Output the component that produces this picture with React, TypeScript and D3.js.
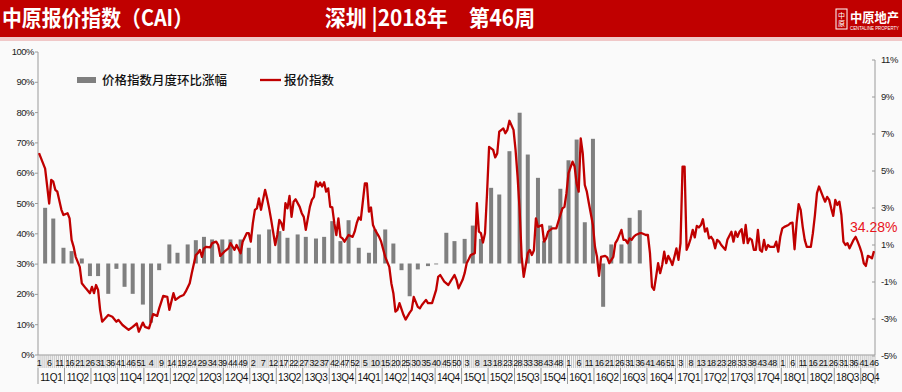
import React from "react";
import * as d3 from "d3";

// ---------- data ----------
const years = [2011, 2012, 2013, 2014, 2015, 2016, 2017, 2018];
const weeksPerYear = [52, 52, 52, 52, 52, 53, 52, 46];

// weekly 报价指数 (week index from 2011 W1, value %)
const lineWeek = [
  0, 3, 5, 6, 7, 8, 9, 11, 12, 14, 15, 16, 17, 18, 20, 21, 23, 25, 26, 27, 28, 29, 30, 31, 34, 36, 38, 39, 41, 44,
  46, 48, 49, 51, 52, 54, 55, 56, 58, 59, 61, 63, 64, 66, 67, 69, 71, 72, 74, 75, 77, 78, 79, 80, 81, 82, 84, 85, 87, 88,
  89, 91, 93, 94, 96, 97, 99, 100, 102, 103, 104, 105, 106, 107, 108, 109, 110, 111, 112, 113, 114, 116, 117, 118, 119, 120, 121, 122, 123, 124,
  125, 126, 128, 129, 130, 131, 133, 134, 135, 136, 137, 138, 139, 140, 141, 142, 143, 144, 145, 146, 147, 148, 149, 150, 151, 152, 154, 155, 156, 157,
  158, 160, 161, 162, 163, 164, 165, 167, 168, 170, 172, 173, 174, 175, 176, 177, 179, 180, 182, 183, 184, 186, 187, 188, 190, 191, 193, 195, 196, 197,
  199, 201, 202, 204, 205, 206, 208, 209, 210, 211, 212, 213, 214, 215, 216, 217, 218, 219, 220, 221, 223, 224, 225, 226, 228, 229, 230, 231, 233, 234,
  235, 236, 237, 238, 240, 241, 242, 243, 244, 245, 247, 248, 249, 250, 252, 254, 255, 257, 258, 259, 260, 262, 263, 264, 265, 266, 267, 268, 269, 270,
  272, 273, 274, 275, 276, 278, 279, 280, 282, 283, 284, 286, 287, 288, 289, 290, 291, 292, 293, 295, 296, 298, 299, 300, 301, 302, 303, 304, 305, 306,
  307, 308, 309, 310, 311, 312, 313, 314, 315, 316, 317, 318, 319, 320, 321, 322, 323, 324, 325, 326, 327, 328, 329, 330, 331, 332, 333, 334, 335, 337,
  338, 340, 341, 342, 343, 344, 345, 346, 347, 348, 349, 350, 351, 352, 353, 354, 355, 356, 357, 358, 359, 361, 362, 363, 364, 365, 366, 368, 369, 370,
  371, 372, 373, 374, 375, 376, 377, 379, 380, 381, 382, 383, 384, 385, 386, 387, 388, 389, 390, 391, 392, 393, 394, 395, 396, 397, 398, 400, 401, 402,
  403, 404, 405, 406, 407, 408, 409, 410,
];
const lineValue = [
  66.6, 61.5, 50.0, 57.8, 57.2, 54.5, 53.9, 47.9, 46.2, 46.8, 45.1, 38.0, 35.7, 32.4, 29.1, 23.7, 22.0, 20.4, 22.5, 20.4, 23.1, 21.5, 14.9, 11.0, 13.2, 12.6, 11.0, 11.6, 9.9, 8.3,
  9.3, 10.4, 7.7, 10.7, 9.3, 8.8, 11.0, 13.5, 12.9, 15.4, 19.5, 19.2, 14.9, 20.4, 18.2, 19.2, 19.8, 20.9, 23.7, 27.0, 33.0, 33.6, 34.7, 32.4, 35.2, 35.7, 35.5, 36.9, 37.4, 36.3,
  32.7, 34.1, 35.2, 36.9, 34.7, 36.3, 33.6, 37.4, 40.2, 40.2, 37.4, 43.5, 47.9, 48.4, 51.7, 47.9, 51.2, 54.5, 51.7, 48.4, 44.6, 36.3, 39.6, 44.6, 43.5, 41.3, 50.1, 48.4, 52.5, 45.6,
  50.6, 51.4, 48.9, 46.8, 45.6, 41.3, 48.9, 51.2, 52.2, 57.2, 55.6, 56.9, 55.6, 57.0, 53.9, 55.0, 48.9, 48.7, 43.5, 39.6, 45.1, 39.0, 38.5, 37.4, 38.5, 39.6, 39.0, 40.7, 43.5, 45.4,
  44.6, 56.6, 56.6, 47.3, 48.7, 42.9, 41.3, 39.0, 37.4, 32.4, 29.1, 23.7, 20.4, 14.3, 14.9, 17.1, 13.2, 11.7, 14.0, 14.9, 19.2, 15.9, 15.4, 16.5, 18.2, 17.1, 17.1, 21.5, 25.8, 26.4,
  24.2, 23.1, 24.2, 26.4, 24.8, 22.0, 24.8, 27.0, 30.3, 31.6, 33.0, 33.3, 33.6, 50.1, 40.7, 40.2, 37.1, 40.2, 53.4, 68.7, 67.7, 65.2, 66.5, 73.7, 74.8, 73.2, 74.3, 77.3, 74.3, 67.7,
  58.8, 47.9, 32.4, 25.8, 33.6, 34.7, 33.0, 34.5, 45.1, 42.3, 42.9, 37.4, 38.5, 40.7, 41.8, 41.8, 44.0, 48.4, 48.9, 53.4, 60.0, 63.8, 62.2, 56.6, 53.9, 71.5, 66.5, 56.1, 53.9, 50.1,
  42.9, 35.7, 32.4, 26.1, 32.4, 32.7, 32.2, 30.3, 32.4, 36.9, 38.0, 41.3, 38.0, 38.0, 36.9, 38.5, 38.0, 39.0, 39.6, 40.2, 40.2, 39.6, 39.6, 33.6, 22.5, 21.5, 25.8, 30.3, 27.0, 29.7,
  34.1, 30.3, 32.7, 31.4, 29.7, 32.4, 35.2, 31.4, 36.9, 62.2, 62.2, 34.7, 36.3, 38.5, 41.3, 38.8, 42.6, 42.1, 42.9, 44.8, 40.7, 41.8, 38.5, 39.0, 38.0, 35.2, 38.0, 37.4, 36.3, 34.7,
  38.0, 40.7, 37.4, 40.7, 39.0, 40.7, 41.5, 36.9, 42.9, 36.9, 38.5, 38.0, 34.7, 34.7, 41.3, 34.7, 34.1, 38.0, 34.7, 36.3, 35.7, 35.7, 37.4, 34.1, 39.0, 41.8, 42.3, 42.9, 43.5, 43.7,
  34.9, 43.5, 49.8, 47.9, 42.3, 38.0, 35.7, 35.7, 40.2, 46.2, 53.4, 55.6, 53.9, 52.2, 50.6, 52.2, 51.2, 48.4, 45.9, 51.2, 49.5, 50.6, 46.2, 37.4, 36.3, 36.9, 35.2, 38.0, 39.0, 37.4,
  35.7, 33.6, 30.3, 29.4, 32.7, 32.4, 31.9, 34.28,
];

// monthly 价格指数月度环比涨幅 (week index of bar, value %)
const barWeek = [
  3, 7, 12, 16, 21, 25, 29, 34, 38, 42, 46, 51, 55, 59, 64, 68, 73, 77, 81, 85, 90, 94, 99, 103, 108, 113, 118, 122, 127, 131,
  136, 140, 144, 148, 152, 157, 162, 165, 170, 174, 178, 182, 186, 191, 195, 200, 204, 209, 213, 217, 222, 226, 231, 236, 240, 245, 248, 251, 256, 260,
  264, 268, 272, 277, 281, 286, 290, 295,
];
const barValue = [
  3.01, 2.43, 0.85, 0.67, 0.27, -0.68, -0.68, -1.64, -0.29, -1.26, -1.64, -2.22, -3.2, -0.36, 1.03, 0.58, 1.03, 1.26, 1.44, 1.3, 1.3, 1.3, 1.3, 0.85, 1.57, 1.84, 1.75, 1.39, 1.57, 1.44,
  1.35, 1.44, 2.29, 1.21, 2.34, 0.85, 0.58, 1.84, 1.84, 1.08, -0.36, -1.77, -0.32, -0.14, -0.05, 1.66, 1.21, 1.33, 2.05, 1.33, 4.09, 3.73, 6.07, 8.15, 5.89, 4.63, 1.21, 2.05, 4.04, 5.58,
  6.7, 2.23, 6.74, -2.34, 1.03, 1.03, 2.47, 2.88,
];

const leftTicks = [0, 10, 20, 30, 40, 50, 60, 70, 80, 90, 100];
const rightTicks = [-5, -3, -1, 1, 3, 5, 7, 9, 11];
const legendBar = "价格指数月度环比涨幅";
const legendLine = "报价指数";
const title = "中原报价指数（CAI）";
const subtitle = "深圳 |2018年　第46周";
const lastLabel = "34.28%";

// ---------- layout ----------
const W = 902;
const H = 392;
const X0 = 38;
const X1 = 875;
const Y0 = 355;

type Wk = { year: number; week: number; q: number };
const weeks: Wk[] = [];
years.forEach((y, yi) => {
  for (let w = 1; w <= weeksPerYear[yi]; w++) {
    weeks.push({ year: y, week: w, q: w <= 13 ? 1 : w <= 26 ? 2 : w <= 39 ? 3 : 4 });
  }
});
const N = weeks.length;

const x = d3.scaleLinear().domain([0, N]).range([X0, X1]);
const xc = (i: number) => x(i + 0.5);
const yL = d3.scaleLinear().domain([0, 100]).range([Y0, 52]);
const yR = d3.scaleLinear().domain([-5, 11]).range([356, 60]);

// quarter groups
type QG = { label: string; start: number; end: number };
const quarters: QG[] = [];
weeks.forEach((w, i) => {
  const lab = `${String(w.year).slice(2)}Q${w.q}`;
  const last = quarters[quarters.length - 1];
  if (last && last.label === lab) last.end = i + 1;
  else quarters.push({ label: lab, start: i, end: i + 1 });
});

const axisFont = "'Liberation Sans', Arial, sans-serif";
const cjkFont = "'Noto Sans CJK SC', sans-serif";

export default function App() {
  const linePath = d3
    .line<number>()
    .x((_, k) => xc(lineWeek[k]))
    .y((v) => yL(v))(lineValue) as string;

  const lastX = xc(lineWeek[lineWeek.length - 1]);
  const lastY = yL(lineValue[lineValue.length - 1]);

  return (
    <svg
      width={W}
      height={H}
      style={{ position: "absolute", left: 0, top: 0, background: "#fafafa" }}
      fontFamily={axisFont}
    >
      <defs>
        <clipPath id="qclip">
          <rect x={x(quarters[quarters.length - 1].start)} y={360} width={40} height={30} />
        </clipPath>
      </defs>
      {/* header */}
      <rect x={0} y={0} width={W} height={37} fill="#c00000" />
      <rect x={0} y={37} width={W} height={4} fill="#f0c8c8" />
      <text
        x={2}
        y={26}
        fill="#fff"
        fontFamily={cjkFont}
        fontWeight={700}
        fontSize={22}
        textLength={191}
        lengthAdjust="spacingAndGlyphs"
      >
        {title}
      </text>
      <text
        x={325}
        y={26}
        fill="#fff"
        fontFamily={cjkFont}
        fontWeight={700}
        fontSize={22}
        textLength={210}
        lengthAdjust="spacingAndGlyphs"
      >
        {subtitle}
      </text>
      {/* logo */}
      <rect x={836} y={9} width={11} height={20} fill="none" stroke="#fff" strokeWidth={1} />
      <text x={841.5} y={18} fill="#fff" fontSize={7} fontFamily={cjkFont} textAnchor="middle">中</text>
      <text x={841.5} y={26} fill="#fff" fontSize={7} fontFamily={cjkFont} textAnchor="middle">原</text>
      <text x={850} y={22} fill="#fff" fontFamily={cjkFont} fontWeight={700} fontSize={13} textLength={49} lengthAdjust="spacingAndGlyphs">
        中原地产
      </text>
      <text x={850} y={29.5} fill="#fff" fontSize={5} textLength={49} lengthAdjust="spacingAndGlyphs">
        CENTALINE PROPERTY
      </text>

      {/* left axis */}
      <line x1={X0} x2={X0} y1={52} y2={Y0} stroke="#9a9a9a" />
      {leftTicks.map((t) => (
        <g key={"l" + t}>
          <line x1={X0 - 3} x2={X0} y1={yL(t)} y2={yL(t)} stroke="#9a9a9a" />
          <text x={X0 - 4} y={yL(t) + 3} fontSize={9.5} textAnchor="end" fill="#222" letterSpacing={-0.5}>
            {t}%
          </text>
        </g>
      ))}
      {/* right axis */}
      <line x1={X1} x2={X1} y1={60} y2={Y0} stroke="#9a9a9a" />
      {rightTicks.map((t) => (
        <g key={"r" + t}>
          <line x1={X1 - 3} x2={X1} y1={yR(t)} y2={yR(t)} stroke="#9a9a9a" />
          <text x={X1 + 6} y={yR(t) + 3} fontSize={9.5} textAnchor="start" fill="#222" letterSpacing={-0.5}>
            {t}%
          </text>
        </g>
      ))}

      {/* bars */}
      {barValue.map((v, k) => (
        <rect
          key={"b" + k}
          x={xc(barWeek[k]) - 2}
          width={4}
          y={Math.min(yR(v), yR(0))}
          height={Math.abs(yR(v) - yR(0))}
          fill="#7f7f7f"
        />
      ))}

      {/* line */}
      <path d={linePath} fill="none" stroke="#c00000" strokeWidth={2.3} strokeLinejoin="round" />
      <text x={lastX - 24} y={lastY - 19} fill="#e8141c" fontSize={14} textAnchor="start">
        {lastLabel}
      </text>

      {/* x axis */}
      <line x1={X0} x2={X1} y1={Y0} y2={Y0} stroke="#9a9a9a" />
      {weeks.map((_, i) => (
        <line key={"t" + i} x1={x(i)} x2={x(i)} y1={Y0} y2={368} stroke="#b4b4b4" strokeWidth={0.8} />
      ))}
      <line x1={X1} x2={X1} y1={Y0} y2={368} stroke="#b4b4b4" strokeWidth={0.8} />
      {weeks.map((w, i) =>
        i % 5 === 0 ? (
          <text key={"wl" + i} x={xc(i)} y={366} fontSize={9} textAnchor="middle" fill="#111" letterSpacing={-0.6}>
            {w.week}
          </text>
        ) : null
      )}
      {quarters.map((q, k) => (
        <g key={"q" + k}>
          <line x1={x(q.start)} x2={x(q.start)} y1={368} y2={384} stroke="#9a9a9a" />
          <text
            x={(x(q.start) + x(q.end)) / 2}
            y={381}
            fontSize={10}
            textAnchor="middle"
            fill="#111"
            letterSpacing={-0.4}
            clipPath={k === quarters.length - 1 ? "url(#qclip)" : undefined}
          >
            {q.label}
          </text>
        </g>
      ))}
      <line x1={X1} x2={X1} y1={368} y2={384} stroke="#9a9a9a" />

      {/* legend */}
      <rect x={77} y={77} width={19} height={6} fill="#7f7f7f" />
      <text x={102} y={85} fontFamily={cjkFont} fontWeight={500} fontSize={12.5} fill="#111">
        {legendBar}
      </text>
      <line x1={260} x2={281} y1={80} y2={80} stroke="#c00000" strokeWidth={2.3} />
      <text x={284} y={85} fontFamily={cjkFont} fontWeight={500} fontSize={12.5} fill="#111">
        {legendLine}
      </text>
    </svg>
  );
}
